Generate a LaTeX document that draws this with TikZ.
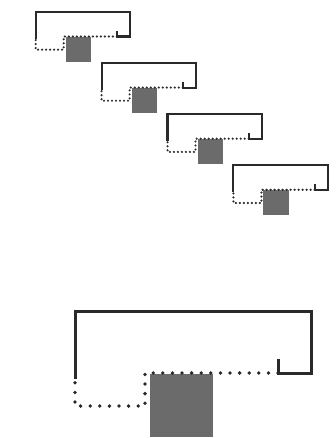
\documentclass[tikz,border=0pt]{standalone}
\usetikzlibrary{calc}
\definecolor{framegray}{HTML}{2A2A2A}
\definecolor{boxgray}{HTML}{6B6B6B}
\tikzset{
  frameline/.style={draw=framegray, line join=miter},
  dotline/.style={draw=framegray, line cap=round, dash pattern=on 0pt off #1},
  boxfill/.style={fill=boxgray},
}
% #1 x, #2 y, #3 scale, #4 solid width, #5 dot width, #6 dot gap
\newcommand\unitfig[6]{%
\begin{scope}[shift={(#1,#2)}, scale=#3]
  \fill[boxfill] (75,63) rectangle (138,126);
  \draw[frameline, line width=#4] (0,68) -- (0,0) -- (236,0) -- (236,62) -- (203,62) -- (203,48);
  \draw[dotline=#6, line width=#5] (203,62) -- (70,62) -- (70,95) -- (0,95) -- (0,68);
\end{scope}}
\begin{document}
\begin{tikzpicture}[x=1pt, y=-1pt]
  \useasboundingbox[fill=white] (0,0) rectangle (335,438);
  \unitfig{35.7}{11.7}{0.4}{2.1pt}{2.4pt}{4pt}
  \unitfig{101.6}{62.8}{0.4}{2.1pt}{2.4pt}{4pt}
  \unitfig{167.5}{113.9}{0.4}{2.1pt}{2.4pt}{4pt}
  \unitfig{233.4}{165}{0.4}{2.1pt}{2.4pt}{4pt}
  \unitfig{75}{311}{1}{3pt}{3.8pt}{9.6pt}
\end{tikzpicture}
\end{document}
